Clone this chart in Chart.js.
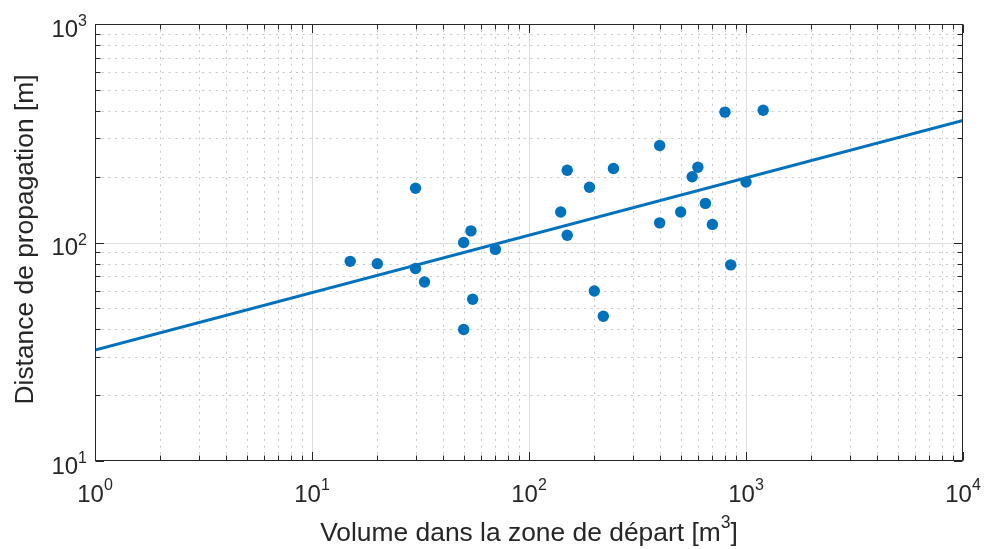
<!DOCTYPE html>
<html>
<head>
<meta charset="utf-8">
<script src="https://cdn.jsdelivr.net/npm/chart.js@4/dist/chart.umd.min.js"></script>
<style>
  html, body { margin: 0; padding: 0; background: #ffffff; }
  canvas { display: block; }
</style>
</head>
<body>
<canvas id="c" width="984" height="549"></canvas>
<script>
// ---- Data ----
const volumes   = [15, 20, 30, 30, 33, 50, 54, 70, 55, 50, 150, 245, 190, 140, 150, 400, 600, 565, 1000, 650, 500, 400, 700, 800, 1200, 850, 200, 220];
const distances = [82, 80, 177, 76, 66, 100, 113, 93, 55, 40, 214, 218, 179, 138, 108, 278, 221, 200, 189, 151, 138, 123, 121, 395, 403, 79, 60, 46];
const fitX = [1, 10000];
const fitY = [32.2, 362];
const xTickValues = [1, 10, 100, 1000, 10000];
const xTickLabels = ['10^0', '10^1', '10^2', '10^3', '10^4'];
const yTickValues = [10, 100, 1000];
const yTickLabels = ['10^1', '10^2', '10^3'];
const xTitle = 'Volume dans la zone de départ [m^3]';
const yTitle = 'Distance de propagation [m]';

const BLUE = '#0072BD';
const AXIS = '#262626';
const FONT = '"Liberation Sans", Arial, Helvetica, sans-serif';

function parseRich(s) {
  const parts = []; let buf = ''; let i = 0;
  while (i < s.length) {
    if (s[i] === '^') {
      if (buf) { parts.push({ t: buf, sup: false }); buf = ''; }
      let e;
      if (s[i + 1] === '{') { const j = s.indexOf('}', i); e = s.slice(i + 2, j); i = j + 1; }
      else { e = s[i + 1]; i += 2; }
      parts.push({ t: e, sup: true });
    } else { buf += s[i]; i++; }
  }
  if (buf) parts.push({ t: buf, sup: false });
  return parts;
}
function drawRich(ctx, str, x, y, align, rise, mainPx, supPx) {
  const parts = parseRich(str);
  let w = 0;
  for (const p of parts) { ctx.font = (p.sup ? supPx : mainPx) + 'px ' + FONT; w += ctx.measureText(p.t).width; }
  let cx = align === 'center' ? x - w / 2 : align === 'right' ? x - w : x;
  ctx.textAlign = 'left'; ctx.textBaseline = 'alphabetic';
  for (const p of parts) {
    ctx.font = (p.sup ? supPx : mainPx) + 'px ' + FONT;
    ctx.fillText(p.t, cx, p.sup ? y - rise : y);
    cx += ctx.measureText(p.t).width;
  }
}
function decadeMinors(min, max) {
  const out = [];
  for (let d = Math.log10(min); d < Math.log10(max); d++) {
    for (let k = 2; k <= 9; k++) out.push(k * Math.pow(10, d));
  }
  return out;
}

const matlabAxes = {
  id: 'matlabAxes',
  beforeDatasetsDraw(chart) {
    const ctx = chart.ctx, a = chart.chartArea, xs = chart.scales.x, ys = chart.scales.y;
    ctx.save();
    ctx.lineWidth = 1;
    ctx.strokeStyle = '#c8c8c8';
    ctx.setLineDash([2, 4.7]);
    for (const v of decadeMinors(xs.min, xs.max)) {
      const px = Math.round(xs.getPixelForValue(v)) + 0.5;
      ctx.beginPath(); ctx.moveTo(px, a.bottom); ctx.lineTo(px, a.top); ctx.stroke();
    }
    for (const v of decadeMinors(ys.min, ys.max)) {
      const py = Math.round(ys.getPixelForValue(v)) + 0.5;
      ctx.beginPath(); ctx.moveTo(a.left, py); ctx.lineTo(a.right, py); ctx.stroke();
    }
    ctx.setLineDash([]);
    ctx.strokeStyle = '#dedede';
    for (const v of xTickValues.slice(1, -1)) {
      const px = Math.round(xs.getPixelForValue(v)) + 0.5;
      ctx.beginPath(); ctx.moveTo(px, a.bottom); ctx.lineTo(px, a.top); ctx.stroke();
    }
    for (const v of yTickValues.slice(1, -1)) {
      const py = Math.round(ys.getPixelForValue(v)) + 0.5;
      ctx.beginPath(); ctx.moveTo(a.left, py); ctx.lineTo(a.right, py); ctx.stroke();
    }
    ctx.restore();
  },
  afterDatasetsDraw(chart) {
    const ctx = chart.ctx, a = chart.chartArea, xs = chart.scales.x, ys = chart.scales.y;
    ctx.save();
    ctx.strokeStyle = AXIS; ctx.lineWidth = 1; ctx.setLineDash([]);
    const L = Math.round(a.left) + 0.5, R = Math.round(a.right) - 0.5;
    const T = Math.round(a.top) + 0.5, B = Math.round(a.bottom) - 0.5;
    ctx.strokeRect(L, T, R - L, B - T);
    const MAJ = 8.5, MIN = 5;
    const xt = xTickValues.map(v => [v, MAJ]).concat(decadeMinors(xs.min, xs.max).map(v => [v, MIN]));
    for (const [v, len] of xt) {
      const px = Math.round(xs.getPixelForValue(v)) + 0.5;
      ctx.beginPath(); ctx.moveTo(px, B); ctx.lineTo(px, B - len); ctx.stroke();
      ctx.beginPath(); ctx.moveTo(px, T); ctx.lineTo(px, T + len); ctx.stroke();
    }
    const yt = yTickValues.map(v => [v, MAJ]).concat(decadeMinors(ys.min, ys.max).map(v => [v, MIN]));
    for (const [v, len] of yt) {
      const py = Math.round(ys.getPixelForValue(v)) + 0.5;
      ctx.beginPath(); ctx.moveTo(L, py); ctx.lineTo(L + len, py); ctx.stroke();
      ctx.beginPath(); ctx.moveTo(R, py); ctx.lineTo(R - len, py); ctx.stroke();
    }
    ctx.fillStyle = AXIS;
    xTickValues.forEach((v, i) => {
      drawRich(ctx, xTickLabels[i], xs.getPixelForValue(v), a.bottom + 40.7, 'center', 12, 24, 16);
    });
    yTickValues.forEach((v, i) => {
      drawRich(ctx, yTickLabels[i], a.left - 8, ys.getPixelForValue(v) + 12.5, 'right', 10.5, 24, 16);
    });
    drawRich(ctx, xTitle, (a.left + a.right) / 2, 540.7, 'center', 12.5, 26.4, 17.6);
    ctx.translate(33.3, (a.top + a.bottom) / 2 - 3);
    ctx.rotate(-Math.PI / 2);
    ctx.font = '26.4px ' + FONT;
    ctx.textAlign = 'center'; ctx.textBaseline = 'alphabetic';
    ctx.fillText(yTitle, 0, 0);
    ctx.restore();
  }
};

new Chart(document.getElementById('c'), {
  type: 'scatter',
  data: {
    datasets: [
      {
        type: 'line',
        label: 'Régression',
        data: fitX.map((x, i) => ({ x: x, y: fitY[i] })),
        borderColor: BLUE, borderWidth: 3, pointRadius: 0, fill: false, tension: 0
      },
      {
        type: 'scatter',
        label: 'Observations',
        data: volumes.map((x, i) => ({ x: x, y: distances[i] })),
        backgroundColor: BLUE, borderWidth: 0, pointRadius: 5.7, pointHoverRadius: 5.7
      }
    ]
  },
  options: {
    responsive: false,
    animation: false,
    events: [],
    layout: { padding: { left: 0, right: 21, top: 24, bottom: 0 } },
    plugins: { legend: { display: false }, tooltip: { enabled: false }, title: { display: false } },
    scales: {
      x: {
        type: 'logarithmic', min: 1, max: 10000,
        ticks: { display: false }, grid: { display: false }, border: { display: false },
        afterFit(s) { s.height = 88; }
      },
      y: {
        type: 'logarithmic', min: 10, max: 1000,
        ticks: { display: false }, grid: { display: false }, border: { display: false },
        afterFit(s) { s.width = 95; }
      }
    }
  },
  plugins: [matlabAxes]
});
</script>
</body>
</html>
